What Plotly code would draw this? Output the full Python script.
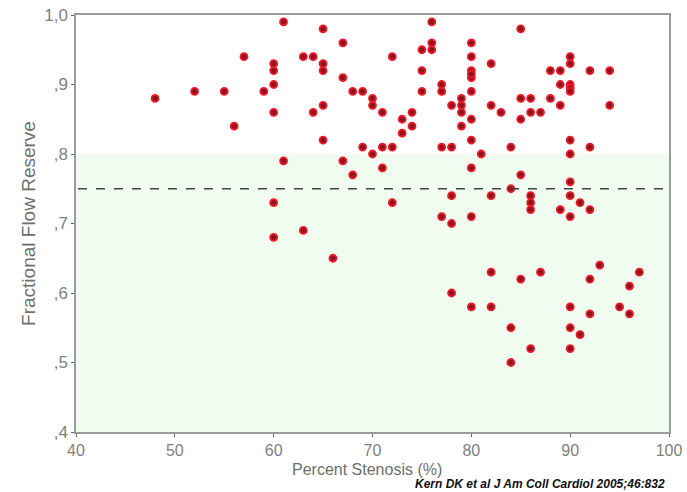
import plotly.graph_objects as go

# Percent stenosis (x) and FFR (y)
stenosis = [
    48, 52, 55, 56, 57, 59,
    60, 60, 60, 60, 60, 60,
    61, 61,
    63, 63, 64, 64,
    65, 65, 65, 65, 65,
    66,
    67, 67, 67,
    68, 68,
    69, 69,
    70, 70, 70,
    71, 71, 71,
    72, 72, 72,
    73, 73,
    74, 74,
    75, 75, 75,
    76, 76, 76,
    77, 77, 77, 77,
    78, 78, 78, 78, 78,
    79, 79, 79, 79,
    80, 80, 80, 80, 80, 80, 80, 80, 80, 80, 80,
    81,
    82, 82, 82, 82, 82,
    83,
    84, 84, 84, 84,
    85, 85, 85, 85, 85,
    86, 86, 86, 86, 86, 86,
    87, 87,
    88, 88,
    89, 89, 89, 89,
    90, 90, 90, 90, 90, 90, 90, 90, 90, 90, 90, 90, 90,
    91, 91,
    92, 92, 92, 92, 92,
    93,
    94, 94,
    95,
    96, 96,
    97,
]
ffr = [
    0.88, 0.89, 0.89, 0.84, 0.94, 0.89,
    0.93, 0.92, 0.90, 0.86, 0.73, 0.68,
    0.99, 0.79,
    0.94, 0.69, 0.94, 0.86,
    0.98, 0.93, 0.92, 0.87, 0.82,
    0.65,
    0.96, 0.91, 0.79,
    0.89, 0.77,
    0.89, 0.81,
    0.88, 0.87, 0.80,
    0.86, 0.81, 0.78,
    0.94, 0.81, 0.73,
    0.85, 0.83,
    0.86, 0.84,
    0.95, 0.92, 0.89,
    0.99, 0.96, 0.95,
    0.90, 0.89, 0.81, 0.71,
    0.87, 0.81, 0.74, 0.70, 0.60,
    0.88, 0.87, 0.86, 0.84,
    0.96, 0.94, 0.92, 0.91, 0.89, 0.85, 0.82, 0.78, 0.71, 0.58, 0.915,
    0.80,
    0.93, 0.87, 0.74, 0.63, 0.58,
    0.86,
    0.81, 0.75, 0.55, 0.50,
    0.98, 0.88, 0.85, 0.77, 0.62,
    0.88, 0.86, 0.74, 0.73, 0.72, 0.52,
    0.86, 0.63,
    0.92, 0.88,
    0.92, 0.90, 0.87, 0.72,
    0.94, 0.93, 0.90, 0.895, 0.89, 0.82, 0.80, 0.76, 0.74, 0.71, 0.58, 0.55, 0.52,
    0.73, 0.54,
    0.92, 0.81, 0.72, 0.62, 0.57,
    0.64,
    0.92, 0.87,
    0.58,
    0.61, 0.57,
    0.63,
]

x_ticks = [40, 50, 60, 70, 80, 90, 100]
x_tick_labels = ["40", "50", "60", "70", "80", "90", "100"]
y_ticks = [0.4, 0.5, 0.6, 0.7, 0.8, 0.9, 1.0]
y_tick_labels = [",4", ",5", ",6", ",7", ",8", ",9", "1,0"]

x_title = "Percent Stenosis (%)"
y_title = "Fractional Flow Reserve"
cutoff_band = [0.4, 0.8]
cutoff_line = 0.75
caption = "Kern DK et al J Am Coll Cardiol 2005;46:832"

FONT = "Liberation Sans, Arial, sans-serif"

fig = go.Figure()

fig.add_shape(type="rect", xref="x", yref="y", x0=40, x1=100,
              y0=cutoff_band[0], y1=cutoff_band[1],
              fillcolor="#effcef", line_width=0, layer="below")

fig.add_shape(type="line", xref="x", yref="y", x0=40.2, x1=99.6,
              y0=cutoff_line, y1=cutoff_line,
              line=dict(color="#444444", width=1.6, dash="dash"))

fig.add_trace(go.Scatter(
    x=stenosis, y=ffr, mode="markers",
    marker=dict(size=7, color="rgb(140,20,28)",
                line=dict(color="rgb(238,25,40)", width=1.8)),
    showlegend=False, hoverinfo="x+y",
))

fig.update_xaxes(
    range=[40, 100], tickvals=x_ticks, ticktext=x_tick_labels,
    showgrid=False, zeroline=False, showline=True, mirror=True,
    linecolor="#9a9a9a", linewidth=1.5, ticks="outside", ticklen=3,
    tickcolor="#666666", automargin=False,
    tickfont=dict(family=FONT, size=16, color="#808080"),
)
fig.update_yaxes(
    range=[0.4, 1.0], tickvals=y_ticks, ticktext=y_tick_labels,
    showgrid=False, zeroline=False, showline=True, mirror=True,
    linecolor="#9a9a9a", linewidth=1.5, ticks="outside", ticklen=3,
    tickcolor="#666666", automargin=False,
    tickfont=dict(family=FONT, size=17, color="#808080"),
    title=dict(text=y_title, standoff=4,
               font=dict(family=FONT, size=19, color="#6e6e6e")),
)

# x-axis title placed as an annotation so it can sit just under the tick labels
fig.add_annotation(
    text=x_title, xref="paper", yref="paper",
    x=0.49, y=-0.0665, xanchor="center", yanchor="top", showarrow=False,
    borderpad=0,
    font=dict(family=FONT, size=16, color="#6e6e6e"),
)

fig.add_annotation(
    text="<b><i>" + caption + "</i></b>", xref="paper", yref="paper",
    x=0.995, y=-0.1439, xanchor="right", yanchor="bottom", showarrow=False,
    borderpad=0,
    font=dict(family=FONT, size=12, color="#111111"),
)

fig.update_layout(
    width=687, height=492,
    margin=dict(l=76, r=18, t=15, b=60),
    paper_bgcolor="white", plot_bgcolor="white",
)

fig.write_html("out.html", config={"displayModeBar": False},
               post_script="document.body.style.margin='0';document.body.style.overflow='hidden';")
